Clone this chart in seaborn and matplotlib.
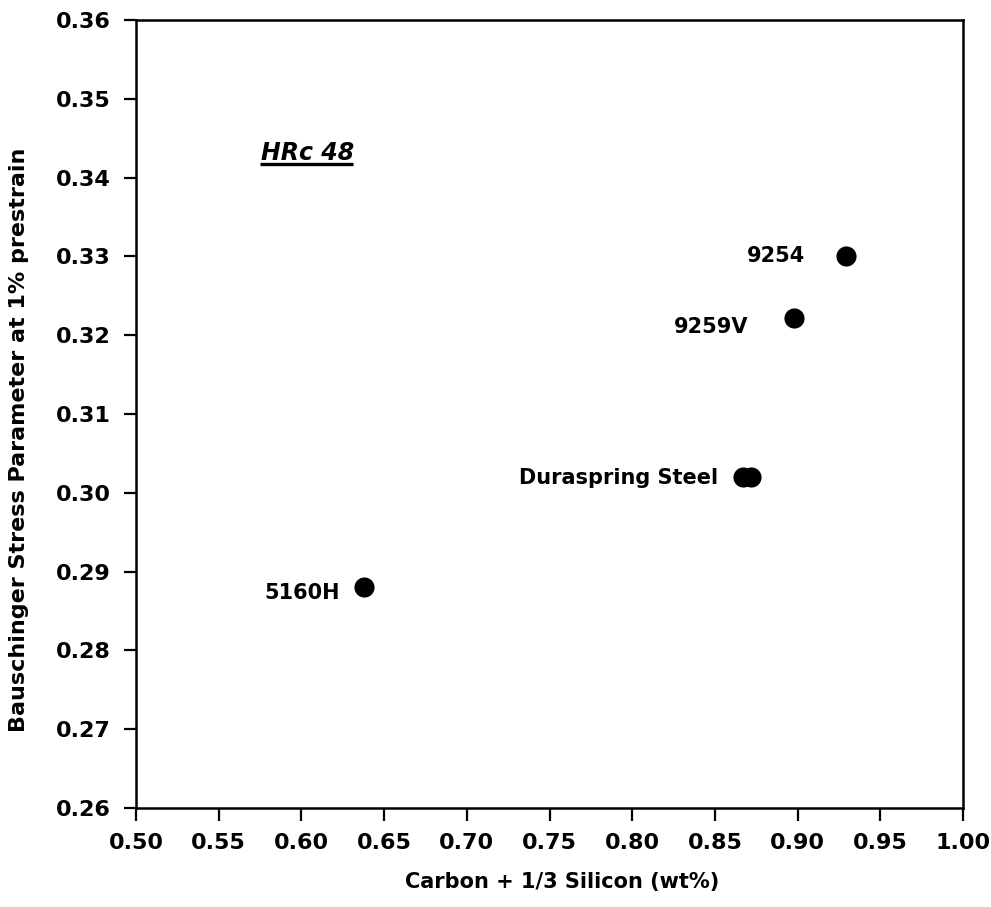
import matplotlib
matplotlib.use("Agg")
import matplotlib.pyplot as plt
import seaborn as sns
import pandas as pd

# Steel grades at HRc 48
steels = ["9254", "9259V", "Duraspring Steel", "Duraspring Steel", "5160H"]
carbon_si = [0.929, 0.898, 0.867, 0.872, 0.638]
bauschinger = [0.330, 0.3222, 0.302, 0.302, 0.288]

# Text anchors (right edge, vertical centre) for the grade names
label_names = ["9254", "9259V", "Duraspring Steel", "5160H"]
label_x = [0.9045, 0.870, 0.852, 0.623]
label_y = [0.3300, 0.3210, 0.3019, 0.2873]

x_ticks = [0.50, 0.55, 0.60, 0.65, 0.70, 0.75, 0.80, 0.85, 0.90, 0.95, 1.00]
y_ticks = [0.26, 0.27, 0.28, 0.29, 0.30, 0.31, 0.32, 0.33, 0.34, 0.35, 0.36]

df = pd.DataFrame({"x": carbon_si, "y": bauschinger, "steel": steels})

sns.set_theme(style="white")
plt.rcParams["font.family"] = ["DejaVu Sans"]

fig = plt.figure(figsize=(9.91, 9.07), dpi=100)
ax = fig.add_axes([136 / 991, 1 - 808 / 907, (963 - 136) / 991, (808 - 20) / 907])

sns.scatterplot(data=df, x="x", y="y", ax=ax, s=210, color="black",
                edgecolor="black", linewidth=0, legend=False, zorder=3)

for name, lx, ly in zip(label_names, label_x, label_y):
    ax.text(lx, ly, name, ha="right", va="center", fontsize=15,
            fontweight="bold", color="black")

ax.set_xlim(0.50, 1.00)
ax.set_ylim(0.26, 0.36)
ax.set_xticks(x_ticks)
ax.set_yticks(y_ticks)
ax.set_xticklabels([f"{v:.2f}" for v in x_ticks])
ax.set_yticklabels([f"{v:.2f}" for v in y_ticks])
ax.tick_params(axis="both", which="major", direction="out", length=9, width=1.6,
               labelsize=16, color="black", labelcolor="black",
               bottom=True, left=True)
ax.tick_params(axis="y", pad=9)
ax.tick_params(axis="x", pad=9)
for lab in ax.get_xticklabels() + ax.get_yticklabels():
    lab.set_fontweight("bold")

for side in ["left", "bottom", "top", "right"]:
    ax.spines[side].set_visible(True)
    ax.spines[side].set_color("black")
    ax.spines[side].set_linewidth(1.8)

ax.set_xlabel("Carbon + 1/3 Silicon (wt%)", fontsize=15, fontweight="bold",
              color="black")
ax.set_ylabel("Bauschinger Stress Parameter at 1% prestrain", fontsize=16,
              fontweight="bold", color="black")
ax.xaxis.set_label_coords(0.515, -0.081)
ax.yaxis.set_label_coords(-0.129, 0.467)

# Hardness condition tag, underlined
ax.text(0.151, 0.8223, "HRc 48", transform=ax.transAxes, fontsize=17,
        fontweight="bold", fontstyle="italic", ha="left", va="baseline",
        color="black")
ax.plot([0.150, 0.2624], [0.8168, 0.8168], transform=ax.transAxes,
        color="black", linewidth=2.4, solid_capstyle="butt")

ax.set_facecolor("white")
fig.patch.set_facecolor("white")
fig.savefig("out.png", dpi=100, facecolor="white")
